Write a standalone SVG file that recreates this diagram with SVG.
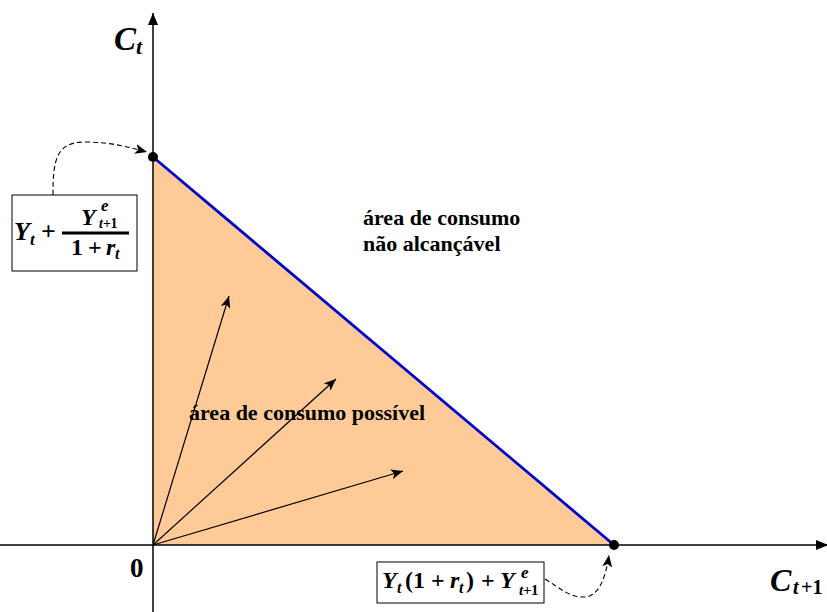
<svg xmlns="http://www.w3.org/2000/svg" width="827" height="612" viewBox="0 0 827 612">
<style>
.b{font-family:"Liberation Serif","Times New Roman",Times,serif;font-weight:bold;fill:#000}
.i{font-style:italic}
.ax{stroke:#000;stroke-width:1.5;fill:none}
.vec{stroke:#000;stroke-width:1.2;fill:none;marker-end:url(#stealth)}
.dash{stroke:#000;stroke-width:1.1;fill:none;stroke-dasharray:5,3;marker-end:url(#stealth)}
.box{fill:#fff;stroke:#000;stroke-width:1}
</style>
<defs>
<marker id="stealth" viewBox="0 0 12 10" refX="12" refY="5" markerWidth="12" markerHeight="10" markerUnits="userSpaceOnUse" orient="auto">
<path d="M0,0 L12,5 L0,10 L3,5 Z" fill="#000"/>
</marker>
<marker id="axarrow" viewBox="0 0 12 10" refX="12" refY="5" markerWidth="12" markerHeight="10" markerUnits="userSpaceOnUse" orient="auto">
<path d="M0,0 L12,5 L0,10 Z" fill="#000"/>
</marker>
</defs>
<rect width="827" height="612" fill="#fff"/>
<g id="feasible-region">
<polygon points="153,157 153,545 614,545" fill="#FECB98"/>
</g>
<g id="axes">
<line class="ax" x1="153" y1="612" x2="153" y2="13" marker-end="url(#axarrow)"/>
<line class="ax" x1="0" y1="545" x2="828" y2="545" marker-end="url(#axarrow)"/>
</g>
<g id="budget-line">
<line x1="153" y1="157" x2="614" y2="545" stroke="#0000CC" stroke-width="2.8"/>
<circle cx="153" cy="157" r="5" fill="#000"/>
<circle cx="614" cy="545" r="5" fill="#000"/>
</g>
<g id="connectors">
<line class="vec" x1="153" y1="545" x2="229" y2="296"/>
<line class="vec" x1="153" y1="545" x2="336" y2="379"/>
<line class="vec" x1="153" y1="545" x2="403" y2="471"/>
<path class="dash" d="M53,195 C53,160 56,142 85,142 C110,142 128,147 147,152"/>
<path class="dash" d="M545,579 C560,588 570,598 585,597 C600,596 606,575 609,555"/>
</g>
<g id="label-ct">
<text class="b i" x="114" y="50" font-size="33">C</text>
<text class="b i" x="136" y="54" font-size="22">t</text>
</g>
<g id="label-ct1">
<text class="b i" x="770" y="591" font-size="32">C</text>
<text class="b i" x="793" y="594" font-size="20">t</text>
<text class="b" x="801" y="594" font-size="20">+1</text>
</g>
<g id="label-zero">
<text class="b" x="130" y="577" font-size="27">0</text>
</g>
<g id="label-unreachable">
<text class="b" x="363" y="225" font-size="22">área de consumo</text>
<text class="b" x="363" y="251" font-size="22">não alcançável</text>
</g>
<g id="label-possible">
<text class="b" x="189" y="420" font-size="22">área de consumo possível</text>
</g>
<g id="box-intercept-y">
<rect class="box" x="12" y="195" width="125" height="76"/>
<text class="b i" x="14" y="240" font-size="26">Y</text>
<text class="b i" x="30" y="245" font-size="17">t</text>
<text class="b" x="41" y="240" font-size="26">+</text>
<rect x="62" y="231.5" width="67" height="3" fill="#000"/>
<text class="b i" x="81" y="225" font-size="24">Y</text>
<text class="b i" x="101" y="211" font-size="17">e</text>
<text class="b i" x="99" y="228" font-size="14">t</text>
<text class="b" x="103" y="228" font-size="14" letter-spacing="-0.5">+1</text>
<text class="b" x="71" y="255" font-size="24">1</text>
<text class="b" x="88" y="255" font-size="24">+</text>
<text class="b i" x="106" y="255" font-size="24">r</text>
<text class="b i" x="115" y="259" font-size="16">t</text>
</g>
<g id="box-intercept-x">
<rect class="box" x="377" y="562" width="167" height="41"/>
<text class="b i" x="382" y="588" font-size="24">Y</text>
<text class="b i" x="397" y="593" font-size="16">t</text>
<text class="b" x="405" y="588" font-size="24">(1</text>
<text class="b" x="431" y="588" font-size="24">+</text>
<text class="b i" x="450" y="588" font-size="24">r</text>
<text class="b i" x="459" y="593" font-size="16">t</text>
<text class="b" x="466" y="588" font-size="24">)</text>
<text class="b" x="481" y="588" font-size="24">+</text>
<text class="b i" x="500" y="588" font-size="24">Y</text>
<text class="b i" x="521" y="578" font-size="17">e</text>
<text class="b i" x="519" y="595" font-size="15">t</text>
<text class="b" x="523" y="595" font-size="15" letter-spacing="-0.5">+1</text>
</g>
</svg>
